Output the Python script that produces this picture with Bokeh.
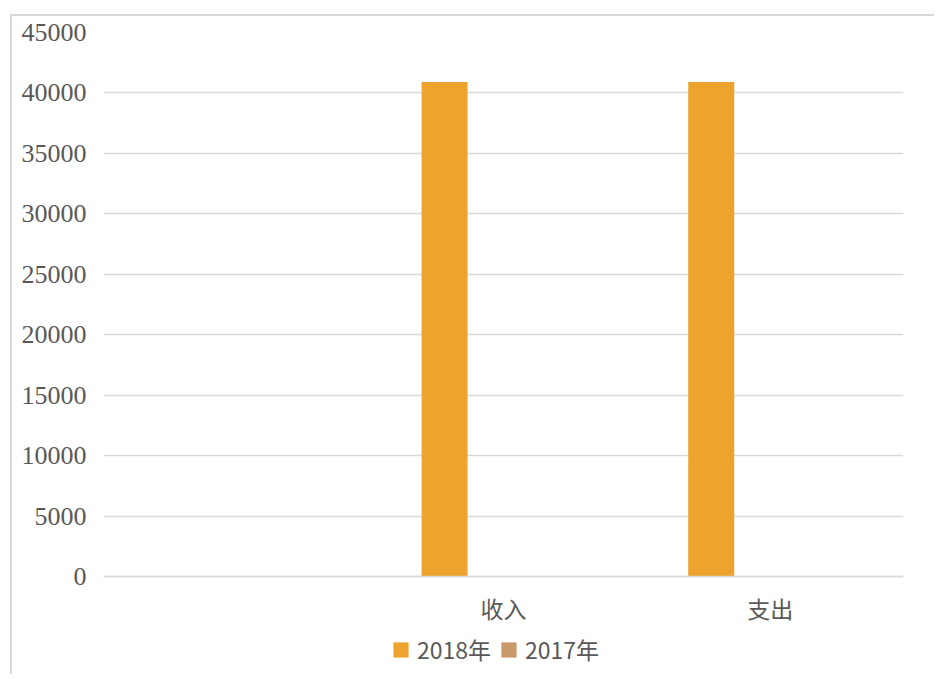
from bokeh.plotting import figure
from bokeh.models import FactorRange, Range1d, FixedTicker, Legend, LegendItem
from bokeh.transform import dodge
from bokeh.embed import file_html
from bokeh.resources import INLINE
from bokeh.models import ColumnDataSource

categories = ["", "收入", "支出"]
series_names = ["2018年", "2017年"]
values_2018 = [0, 40900, 40900]
values_2017 = [0, 0, 0]
y_ticks = [0, 5000, 10000, 15000, 20000, 25000, 30000, 35000, 40000, 45000]

colors = ["#EFA32F", "#C9986B"]
text_color = "#595959"
grid_color = "#D9D9D9"

source = ColumnDataSource(data=dict(cat=categories, s2018=values_2018, s2017=values_2017))

p = figure(
    x_range=FactorRange(factors=categories, range_padding=0, factor_padding=0),
    y_range=Range1d(-7940, 45000),
    width=924, height=660,
    output_backend="svg", toolbar_location=None,
    min_border_left=91, min_border_right=33, min_border_top=16, min_border_bottom=4,
)
p.margin = (14, 0, 0, 10)
p.styles = {"border-top": "2px solid #D9D9D9", "border-left": "2px solid #D9D9D9"}
p.outline_line_color = None

r1 = p.vbar(x=dodge("cat", -0.221, range=p.x_range), top="s2018", width=0.1725,
            source=source, fill_color=colors[0], line_color=None)
r2 = p.vbar(x=dodge("cat", -0.049, range=p.x_range), top="s2017", width=0.1725,
            source=source, fill_color=colors[1], line_color=None)

p.xgrid.grid_line_color = None
p.ygrid.ticker = FixedTicker(ticks=y_ticks)
p.ygrid.grid_line_color = grid_color
p.ygrid.grid_line_width = 1.5

p.yaxis.ticker = FixedTicker(ticks=y_ticks)
p.yaxis.axis_line_color = None
p.yaxis.major_tick_line_color = None
p.yaxis.minor_tick_line_color = None
p.yaxis.major_tick_out = 0
p.yaxis.major_label_standoff = 17
p.yaxis.major_label_text_font = "Liberation Serif"
p.yaxis.major_label_text_font_size = "26px"
p.yaxis.major_label_text_color = text_color

p.xaxis.fixed_location = 0
p.xaxis.axis_line_color = grid_color
p.xaxis.axis_line_width = 1.5
p.xaxis.major_tick_line_color = None
p.xaxis.minor_tick_line_color = None
p.xaxis.major_tick_out = 0
p.xaxis.major_tick_in = 0
p.xaxis.major_label_standoff = 14
p.xaxis.major_label_text_font = "Noto Sans CJK SC"
p.xaxis.major_label_text_font_size = "23px"
p.xaxis.major_label_text_color = text_color

legend = Legend(
    items=[LegendItem(label=series_names[0], renderers=[r1]),
           LegendItem(label=series_names[1], renderers=[r2])],
    orientation="horizontal", location=(288, 6),
    glyph_width=19, glyph_height=19, label_standoff=7, spacing=8,
    label_text_font="Noto Sans CJK SC", label_text_font_size="23px",
    label_text_color=text_color, border_line_color=None,
    background_fill_alpha=0, padding=4, margin=0,
)
p.add_layout(legend, "center")

open("out.html", "w").write(file_html(p, INLINE))
